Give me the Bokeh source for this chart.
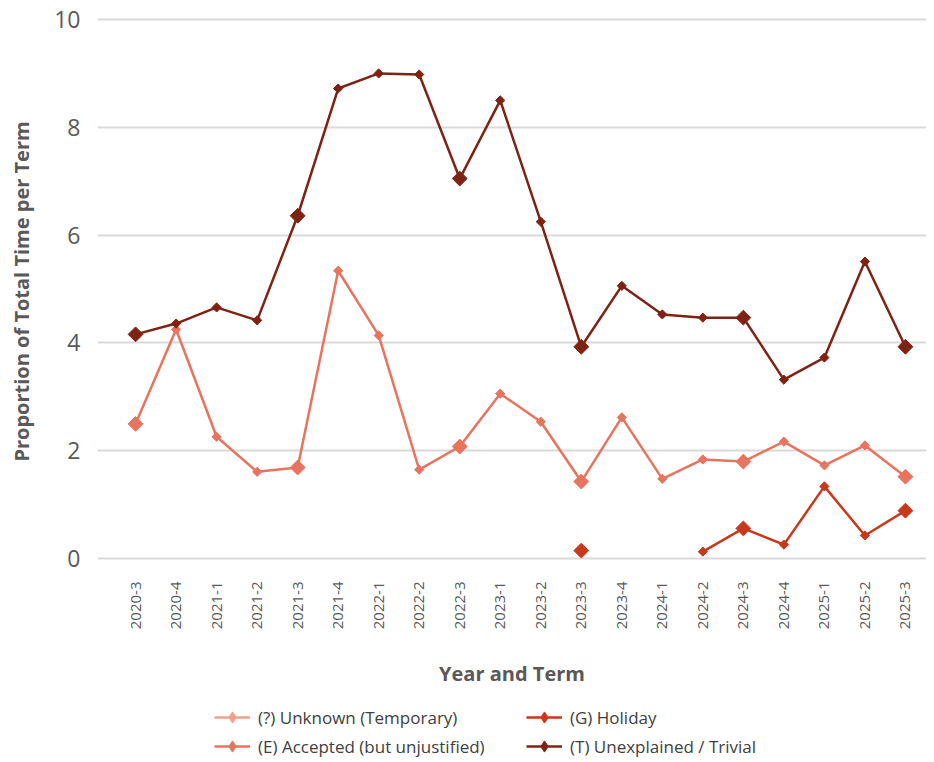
import math
from bokeh.plotting import figure
from bokeh.layouts import column
from bokeh.models import (Range1d, FixedTicker, Legend, LegendItem, ColumnDataSource)
from bokeh.embed import file_html
from bokeh.resources import INLINE

nan = float("nan")

terms = ["2020-3", "2020-4", "2021-1", "2021-2", "2021-3", "2021-4", "2022-1", "2022-2",
         "2022-3", "2023-1", "2023-2", "2023-3", "2023-4", "2024-1", "2024-2", "2024-3",
         "2024-4", "2025-1", "2025-2", "2025-3"]

unknown_temporary = [nan] * 20
accepted_unjustified = [2.50, 4.25, 2.26, 1.61, 1.69, 5.34, 4.14, 1.65, 2.08, 3.06,
                        2.54, 1.43, 2.62, 1.48, 1.84, 1.80, 2.17, 1.73, 2.10, 1.52]
holiday = [nan, nan, nan, nan, nan, nan, nan, nan, nan, nan,
           nan, 0.15, nan, nan, 0.13, 0.56, 0.26, 1.34, 0.43, 0.89]
unexplained_trivial = [4.16, 4.36, 4.66, 4.42, 6.36, 8.72, 9.00, 8.98, 7.05, 8.50,
                       6.25, 3.93, 5.06, 4.53, 4.47, 4.47, 3.32, 3.73, 5.51, 3.93]

series_names = ["(?) Unknown (Temporary)", "(E) Accepted (but unjustified)",
                "(G) Holiday", "(T) Unexplained / Trivial"]
series_values = [unknown_temporary, accepted_unjustified, holiday, unexplained_trivial]
series_colors = ["#F0A08E", "#E8735E", "#C8391C", "#7E2314"]

FONT = "Open Sans"
x = list(range(len(terms)))
sizes = [10.5 if t.endswith("-3") else 6.5 for t in terms]

# ---------------- main chart ----------------
p = figure(frame_width=829, frame_height=558, output_backend="svg", toolbar_location=None,
           x_range=Range1d(-0.94, 19.52), y_range=Range1d(-0.22, 10.13),
           min_border_top=12, min_border_left=97, min_border_right=0, min_border_bottom=118)
p.outline_line_color = None
p.background_fill_color = "white"
p.border_fill_color = "white"

p.xgrid.grid_line_color = None
p.ygrid.grid_line_color = "#D9D9D9"
p.ygrid.grid_line_width = 2

p.yaxis.ticker = FixedTicker(ticks=[0, 2, 4, 6, 8, 10])
p.yaxis.axis_line_color = None
p.yaxis.major_tick_line_color = None
p.yaxis.minor_tick_line_color = None
p.yaxis.major_label_text_font = FONT
p.yaxis.major_label_text_font_size = "23px"
p.yaxis.major_label_text_color = "#595959"
p.yaxis.major_label_standoff = 11
p.yaxis.axis_label = "Proportion of Total Time per Term"
p.yaxis.axis_label_text_font = FONT
p.yaxis.axis_label_text_font_style = "bold"
p.yaxis.axis_label_text_font_size = "20px"
p.yaxis.axis_label_text_color = "#595959"
p.yaxis.axis_label_standoff = 16

p.xaxis.ticker = FixedTicker(ticks=x)
p.xaxis.major_label_overrides = {i: t for i, t in enumerate(terms)}
p.xaxis.major_label_orientation = math.pi / 2
p.xaxis.axis_line_color = None
p.xaxis.major_tick_line_color = None
p.xaxis.minor_tick_line_color = None
p.xaxis.major_label_text_font = FONT
p.xaxis.major_label_text_font_size = "15px"
p.xaxis.major_label_text_color = "#595959"
p.xaxis.major_label_standoff = 5
p.xaxis.axis_label = "Year and Term"
p.xaxis.axis_label_text_font = FONT
p.xaxis.axis_label_text_font_style = "bold"
p.xaxis.axis_label_text_font_size = "20px"
p.xaxis.axis_label_text_color = "#595959"
p.xaxis.axis_label_standoff = 28

for name, vals, col in zip(series_names, series_values, series_colors):
    src = ColumnDataSource(dict(x=x, y=vals, s=sizes))
    p.line("x", "y", source=src, line_color=col, line_width=2.5)
    p.scatter("x", "y", source=src, marker="square", size="s", angle=math.pi / 4,
              fill_color=col, line_color=col)

# ---------------- legend strip ----------------
lf = figure(width=926, height=70, output_backend="svg", toolbar_location=None,
            x_range=Range1d(0, 1), y_range=Range1d(0, 1),
            x_axis_location=None, y_axis_location=None,
            min_border=0)
lf.outline_line_color = None
lf.grid.grid_line_color = None
lf.border_fill_color = "white"

items = []
for name, col in zip(series_names, series_colors):
    # invisible placeholder renderers that only provide the legend swatches
    ln = lf.line(x=[nan], y=[nan], line_color=col, line_width=2.5)
    mk = lf.scatter(x=[nan], y=[nan], marker="diamond", size=12, fill_color=col, line_color=col)
    items.append(LegendItem(label=name, renderers=[ln, mk]))


def make_legend(its, xpos):
    lgd = Legend(items=its, orientation="vertical", location=(xpos, 0))
    lgd.border_line_color = None
    lgd.background_fill_alpha = 0
    lgd.label_text_font = FONT
    lgd.label_text_font_size = "17px"
    lgd.label_text_color = "#404040"
    lgd.glyph_width = 36
    lgd.glyph_height = 28
    lgd.label_standoff = 8
    lgd.spacing = 1
    lgd.padding = 0
    lgd.margin = 0
    return lgd


lf.add_layout(make_legend([items[0], items[1]], 117))
lf.add_layout(make_legend([items[2], items[3]], 429))

layout = column(p, lf, spacing=0)
open("out.html", "w").write(file_html(layout, INLINE))
